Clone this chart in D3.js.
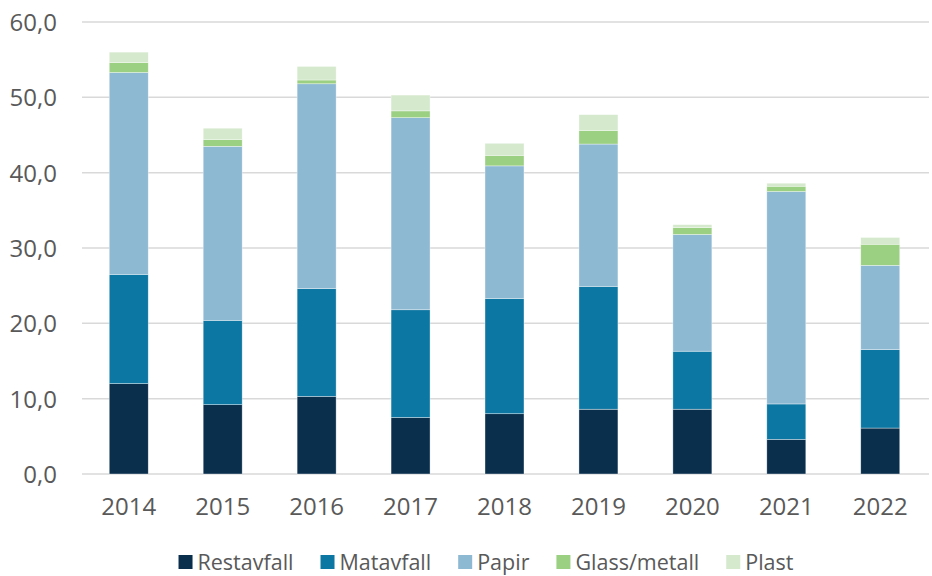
<!DOCTYPE html>
<html>
<head>
<meta charset="utf-8">
<script src="https://cdn.jsdelivr.net/npm/d3@7"></script>
<style>
  body { margin: 0; background: #fff; }
  text { font-family: "Open Sans", "Noto Sans", sans-serif; fill: #595959; }
</style>
</head>
<body>
<div id="chart"></div>
<script>
const years = ["2014", "2015", "2016", "2017", "2018", "2019", "2020", "2021", "2022"];
const seriesNames = ["Restavfall", "Matavfall", "Papir", "Glass/metall", "Plast"];
const restavfall = [12.0, 9.2, 10.3, 7.5, 8.0, 8.6, 8.6, 4.6, 6.1];
const matavfall = [14.5, 11.2, 14.3, 14.3, 15.3, 16.3, 7.7, 4.7, 10.4];
const papir = [26.8, 23.1, 27.2, 25.5, 17.6, 18.9, 15.5, 28.2, 11.2];
const glassMetall = [1.3, 0.9, 0.5, 0.9, 1.4, 1.8, 0.9, 0.7, 2.8];
const plast = [1.4, 1.5, 1.8, 2.1, 1.6, 2.1, 0.4, 0.4, 0.9];
const yTicks = [0, 10, 20, 30, 40, 50, 60];
const colors = ["#0a2f4d", "#0d77a3", "#8eb9d3", "#9bcf82", "#d5e9cd"];

const width = 932, height = 576;
const margin = { top: 22, right: 5, bottom: 102, left: 82 };

const svg = d3.select("#chart")
    .append("svg")
    .attr("width", width)
    .attr("height", height);

// build rows for the stack
const rows = years.map((y, i) => ({
    year: y,
    "Restavfall": restavfall[i],
    "Matavfall": matavfall[i],
    "Papir": papir[i],
    "Glass/metall": glassMetall[i],
    "Plast": plast[i]
}));
const stacked = d3.stack().keys(seriesNames)(rows);

const x = d3.scaleBand()
    .domain(years)
    .range([margin.left, width - margin.right])
    .paddingInner(0.585)
    .paddingOuter(0.29);

const y = d3.scaleLinear()
    .domain([0, 60])
    .range([height - margin.bottom, margin.top]);

const color = d3.scaleOrdinal().domain(seriesNames).range(colors);

// gridlines
svg.append("g")
    .selectAll("line")
    .data(yTicks)
    .enter()
    .append("line")
    .attr("x1", margin.left)
    .attr("x2", width - 3)
    .attr("y1", (d) => y(d))
    .attr("y2", (d) => y(d))
    .style("stroke", "#d9d9d9")
    .style("stroke-width", 1.5);

// y axis
const yAxis = svg.append("g")
    .attr("transform", `translate(${margin.left - 25},0)`)
    .call(d3.axisLeft(y).tickValues(yTicks).tickSize(0)
        .tickFormat((d) => d3.format(".1f")(d).replace(".", ",")));
yAxis.select(".domain").remove();
yAxis.selectAll("text")
    .style("font-size", "24px")
    .attr("dy", "0.35em")
    .attr("x", 0);

// bars
svg.append("g")
    .selectAll("g")
    .data(stacked)
    .enter()
    .append("g")
    .style("fill", (d) => color(d.key))
    .selectAll("rect")
    .data((d) => d)
    .enter()
    .append("rect")
    .attr("x", (d) => x(d.data.year))
    .attr("width", x.bandwidth())
    .attr("y", (d) => y(d[1]))
    .attr("height", (d) => y(d[0]) - y(d[1]))
    .style("stroke", "#ffffff")
    .style("stroke-width", 0.6)
    .style("stroke-opacity", 0.6);

// x axis
const xAxis = svg.append("g")
    .attr("transform", `translate(0,${height - margin.bottom})`)
    .call(d3.axisBottom(x).tickSize(0).tickPadding(0));
xAxis.select(".domain").remove();
xAxis.selectAll("text")
    .style("font-size", "24px")
    .attr("dy", null)
    .attr("y", 41);

// legend
const legend = svg.append("g");
const items = legend.selectAll("g")
    .data(seriesNames)
    .enter()
    .append("g");
items.append("rect")
    .attr("width", 14)
    .attr("height", 14)
    .attr("y", -7)
    .style("fill", (d) => color(d));
items.append("text")
    .attr("x", 19)
    .attr("dy", "0.35em")
    .style("font-size", "21.5px")
    .text((d) => d);

let offset = 0;
items.each(function () {
    const g = d3.select(this);
    g.attr("transform", `translate(${offset},0)`);
    offset += 19 + g.select("text").node().getComputedTextLength() + 27;
});
offset -= 27;
legend.attr("transform", `translate(${486 - offset / 2},562)`);
</script>
</body>
</html>
